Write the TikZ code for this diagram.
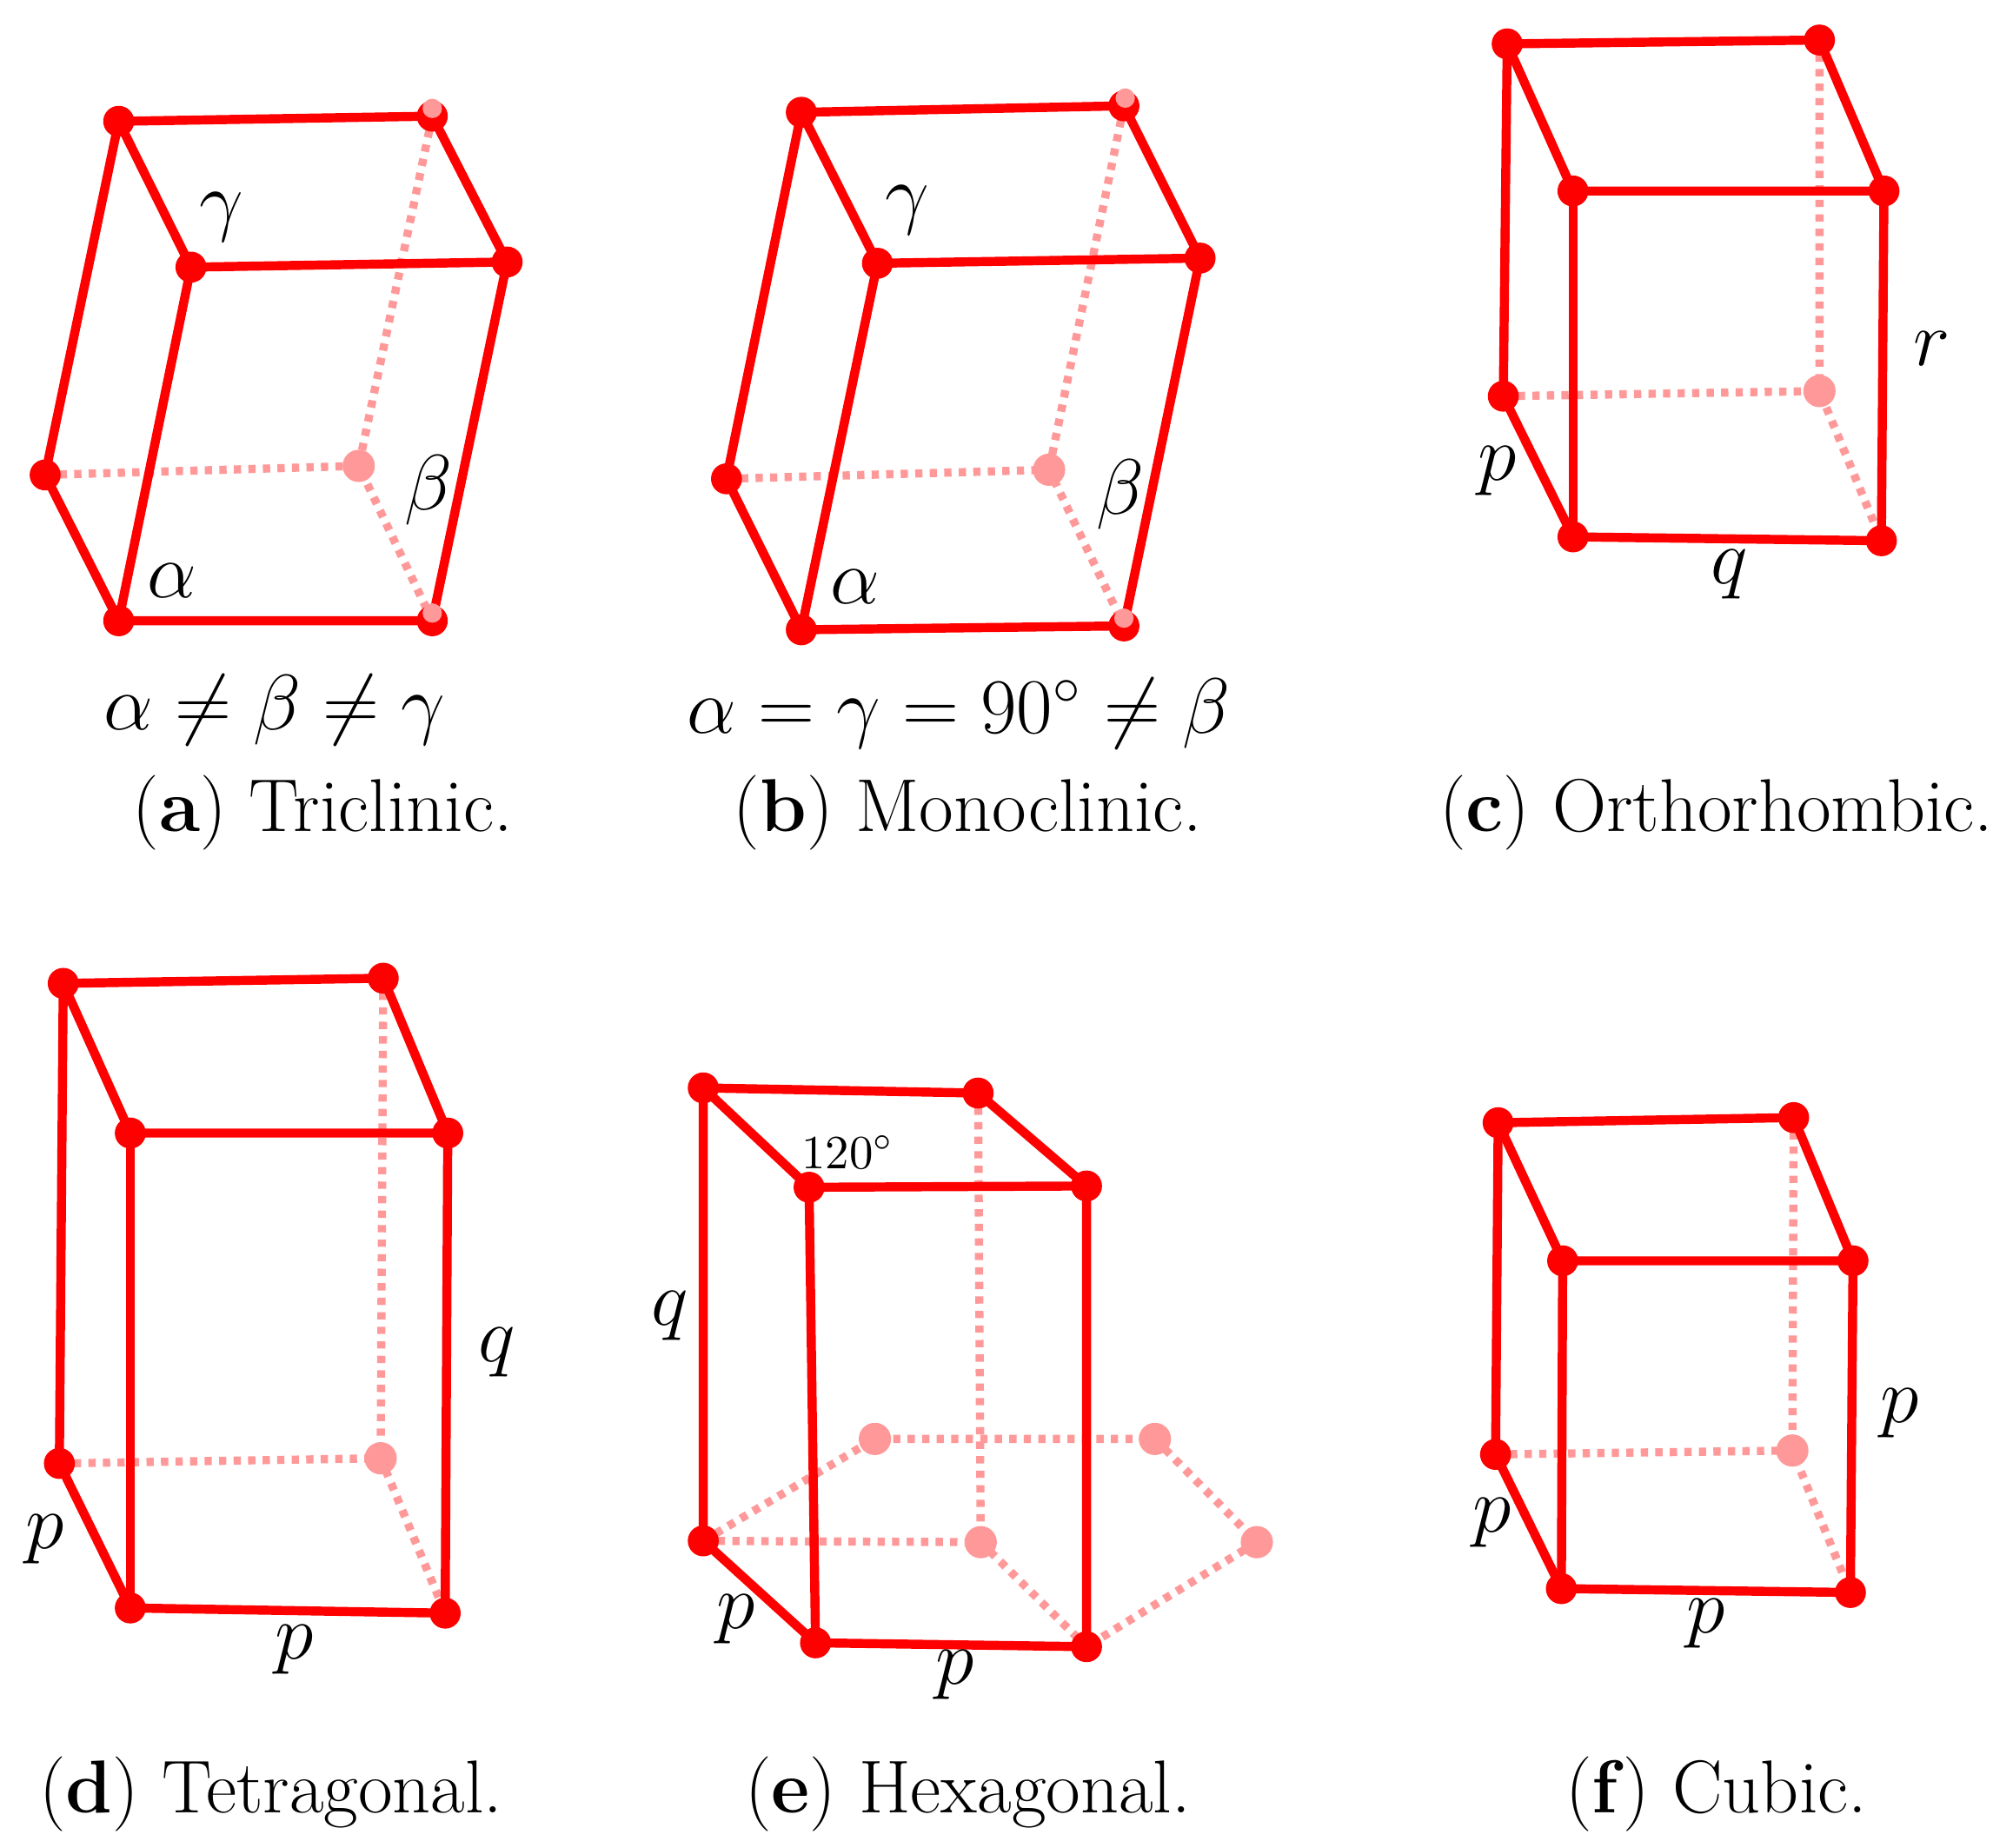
\documentclass[tikz,border=0pt]{standalone}
\begin{document}
\begin{tikzpicture}[x=0.01cm,y=-0.01cm,
  solid edge/.style={draw=red,line width=2pt,line join=round},
  hid edge/.style={draw=red!40,line width=1.8pt,dash pattern=on 1.6pt off 1.6pt},
  sdot/.style={circle,fill=red,inner sep=0pt,minimum size=0.24cm},
  hdot/.style={circle,fill=red!40,inner sep=0pt,minimum size=0.25cm},
  lab/.style={font=\fontsize{18}{22}\selectfont},
  captxt/.style={font=\fontsize{16.5}{20}\selectfont},
  smalltxt/.style={font=\fontsize{10.5}{13}\selectfont}]
\useasboundingbox (0,0) rectangle (1560,1432);
\newcommand\crystbox[9]{%
  \coordinate (#1a) at #2; \coordinate (#1b) at #3; \coordinate (#1c) at #4; \coordinate (#1d) at #5;
  \coordinate (#1e) at #6; \coordinate (#1f) at #7; \coordinate (#1g) at #8; \coordinate (#1h) at #9;
  \draw[hid edge] (#1b) -- (#1f) (#1e) -- (#1f) -- (#1h);
  \node[hdot] at (#1f) {};
  \draw[solid edge] (#1a) -- (#1b) -- (#1d) -- (#1c) -- cycle;
  \draw[solid edge] (#1a) -- (#1e) -- (#1g) -- (#1h) -- (#1d);
  \draw[solid edge] (#1c) -- (#1g);
  \foreach \p in {a,b,c,d,e,g,h} \node[sdot] at (#1\p) {};
}
\crystbox{A}{(92,94)}{(335,90)}{(148,207)}{(393,203)}{(35,368)}{(278,361)}{(92,481)}{(335,481)}
\node[hdot,minimum size=0.15cm] at (335,84) {};
\node[hdot,minimum size=0.15cm] at (335,475) {};
\node[lab] (ag) at (172,168) {$\gamma$};
\node[lab] (ab) at (332,380) {$\beta$};
\node[lab] (aa) at (133,450) {$\alpha$};
\node[lab] (aeq) at (213,550) {$\alpha\neq\beta\neq\gamma$};
\node[captxt] (acap) at (250,630) {(\textbf{a}) Triclinic.};

\crystbox{B}{(621,87)}{(871,82)}{(680,204)}{(930,200)}{(563,371)}{(813,364)}{(621,488)}{(871,485)}
\node[hdot,minimum size=0.15cm] at (872,76) {};
\node[hdot,minimum size=0.15cm] at (871,479) {};
\node[lab] (bg) at (703,163) {$\gamma$};
\node[lab] (bb) at (868,383) {$\beta$};
\node[lab] (ba) at (663,455) {$\alpha$};
\node[lab] (beq) at (743,553) {$\alpha=\gamma=90^\circ\neq\beta$};
\node[captxt] (bcap) at (750,630) {(\textbf{b}) Monoclinic.};

\crystbox{C}{(1168,34)}{(1410,31)}{(1219,148)}{(1460,148)}{(1165,307)}{(1410,303)}{(1219,416)}{(1458,419)}
\node[lab] (cr) at (1497,270) {$r$};
\node[lab] (cp) at (1160,365) {$p$};
\node[lab] (cq) at (1340,445) {$q$};
\node[captxt] (ccap) at (1330,630) {(\textbf{c}) Orthorhombic.};

\crystbox{D}{(49,762)}{(297,758)}{(101,878)}{(347,878)}{(46,1134)}{(295,1130)}{(101,1246)}{(345,1250)}
\node[lab] (dq) at (385,1048) {$q$};
\node[lab] (dp1) at (35,1193) {$p$};
\node[lab] (dp2) at (228,1278) {$p$};
\node[captxt] (dcap) at (210,1390) {(\textbf{d}) Tetragonal.};

\coordinate (Ea) at (545,843); \coordinate (Eb) at (758,847); \coordinate (Ec) at (627,920); \coordinate (Ed) at (842,919);
\coordinate (Ee) at (545,1194); \coordinate (Ef) at (760,1195); \coordinate (Eg) at (632,1273); \coordinate (Eh) at (842,1276);
\coordinate (Ei) at (678,1115); \coordinate (Ej) at (895,1115); \coordinate (Ek) at (974,1195);
\draw[hid edge] (Eb) -- (Ef) (Ee) -- (Ef) -- (Eh) (Ee) -- (Ei) -- (Ej) -- (Ek) -- (Eh);
\foreach \p in {f,i,j,k} \node[hdot] at (E\p) {};
\draw[solid edge] (Ea) -- (Eb) -- (Ed) -- (Ec) -- cycle;
\draw[solid edge] (Ea) -- (Ee) -- (Eg) -- (Eh) -- (Ed);
\draw[solid edge] (Ec) -- (Eg);
\foreach \p in {a,b,c,d,e,g,h} \node[sdot] at (E\p) {};
\node[smalltxt] (e120) at (657,893) {120$^\circ$};
\node[lab] (eq) at (519,1020) {$q$};
\node[lab] (ep1) at (570,1255) {$p$};
\node[lab] (ep2) at (740,1298) {$p$};
\node[captxt] (ecap) at (750,1390) {(\textbf{e}) Hexagonal.};

\crystbox{F}{(1161,870)}{(1390,866)}{(1211,977)}{(1436,977)}{(1159,1127)}{(1389,1124)}{(1210,1231)}{(1434,1234)}
\node[lab] (fp1) at (1472,1095) {$p$};
\node[lab] (fp2) at (1156,1180) {$p$};
\node[lab] (fp3) at (1322,1258) {$p$};
\node[captxt] (fcap) at (1330,1390) {(\textbf{f}) Cubic.};
\end{tikzpicture}
\end{document}
